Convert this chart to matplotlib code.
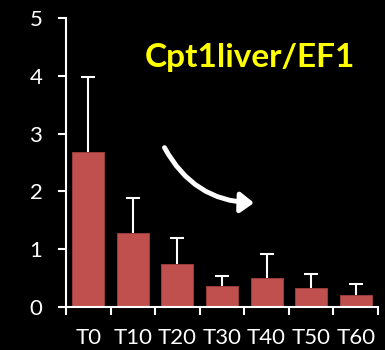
import numpy as np
import matplotlib.pyplot as plt
from matplotlib.patches import FancyArrowPatch

# datos
tiempos = ["T0", "T10", "T20", "T30", "T40", "T50", "T60"]
expresion = [2.69, 1.28, 0.74, 0.37, 0.50, 0.32, 0.20]
error_sup = [1.29, 0.61, 0.45, 0.17, 0.42, 0.25, 0.19]

ROJO = "#C0504D"

plt.rcParams["font.family"] = ["Lato", "DejaVu Sans"]

fig = plt.figure(figsize=(3.85, 3.5), dpi=100, facecolor="black")
ax = fig.add_axes([0.1714, 0.1229, 0.8106, 0.8257], facecolor="black")

x = np.arange(len(tiempos))
ax.bar(x, expresion, width=0.72, color=ROJO, edgecolor="#A0403D", linewidth=0.6, zorder=3)
_, topes, _ = ax.errorbar(x, expresion, yerr=[np.zeros(len(x)), error_sup], fmt="none",
                          ecolor="white", elinewidth=1.5, capsize=5, capthick=1.5, zorder=2)
# solo barra de error superior: ocultar el tope inferior
topes[0].set_visible(False)

ax.set_xlim(-0.5, len(tiempos) - 0.5)
ax.set_ylim(0, 5)
ax.set_yticks([0, 1, 2, 3, 4, 5])
ax.set_xticks(x)
ax.set_xticklabels(tiempos)
ax.set_xticks(np.arange(-0.5, len(tiempos)), minor=True)

for side in ["top", "right"]:
    ax.spines[side].set_visible(False)
for side in ["left", "bottom"]:
    ax.spines[side].set_color("white")
    ax.spines[side].set_linewidth(1.5)
    ax.spines[side].set_zorder(4)

ax.tick_params(axis="y", colors="white", labelsize=16, length=6, width=1.5, pad=11)
ax.tick_params(axis="x", which="major", colors="white", labelsize=16, length=0, pad=15)
ax.tick_params(axis="x", which="minor", colors="white", length=6, width=1.5)

fig.text(0.65, 0.835, "Cpt1liver/EF1", color="#FFFF00", fontsize=24,
         fontweight="bold", ha="center", va="center")

flecha = FancyArrowPatch((1.68, 2.8), (3.78, 1.8), connectionstyle="arc3,rad=0.3",
                         arrowstyle="-|>,head_length=8,head_width=6",
                         color="white", linewidth=3.5, zorder=5)
ax.add_patch(flecha)

fig.savefig("out.png", dpi=100, facecolor="black")
